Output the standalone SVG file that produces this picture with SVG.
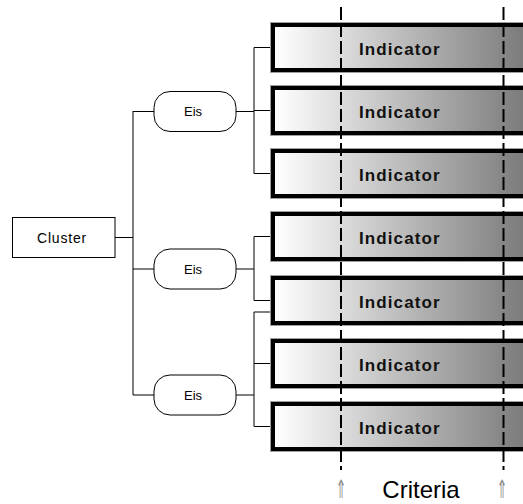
<svg xmlns="http://www.w3.org/2000/svg" width="523" height="504" viewBox="0 0 523 504">
<style>
.ind rect.b{fill:url(#g);stroke:#000;stroke-width:4}
.ind rect.s{fill:none;stroke:#a0a0a0;stroke-width:1}
.ind text{font-family:"Liberation Sans",Arial,sans-serif;font-weight:bold;font-size:17px;letter-spacing:1.1px;fill:#111}
.eis rect{fill:#fff;stroke:#000;stroke-width:1}
.lbl{font-family:"Liberation Sans",Arial,sans-serif;font-size:13px;fill:#000;text-anchor:middle}
.con path{fill:none;stroke:#000;stroke-width:1}
.dash{stroke:#000;stroke-width:2;stroke-dasharray:13,4}
.arr{font-family:"DejaVu Sans",sans-serif;font-size:14px;fill:#8a8a8a;text-anchor:middle}
</style>
<defs>
<linearGradient id="g" gradientUnits="userSpaceOnUse" x1="275" y1="0" x2="530" y2="0">
<stop offset="0" stop-color="#ffffff"/>
<stop offset="1" stop-color="#787878"/>
</linearGradient>
</defs>
<rect width="523" height="504" fill="#fff"/>
<g class="con">
<path d="M115 237.5H133M133 111V395M133 111.5H154M133 269H154M133 395H154"/>
<path d="M236 111.5H254M254 47.5V173.5M254 47.5H271M254 110.5H271M254 173.5H271"/>
<path d="M236 269H254M254 236.5V300.5M254 236.5H271M254 300.5H271"/>
<path d="M236 395H254M254 312V426.5M254 312H271M254 363.5H271M254 426.5H271"/>
</g>
<g id="cluster"><rect x="12.5" y="217.5" width="102.5" height="40" fill="#fff" stroke="#000"/><text class="lbl" x="62" y="242.5" style="font-size:14px;letter-spacing:0.8px">Cluster</text></g>
<g id="eis1" class="eis"><rect x="154" y="91.5" width="82" height="40" rx="16"/><text class="lbl" x="193" y="116">Eis</text></g>
<g id="eis2" class="eis"><rect x="154" y="249" width="82" height="40" rx="16"/><text class="lbl" x="193" y="273.5">Eis</text></g>
<g id="eis3" class="eis"><rect x="154" y="375" width="82" height="40" rx="16"/><text class="lbl" x="193" y="399.5">Eis</text></g>
<g id="ind1" class="ind"><rect class="s" x="270.5" y="22.5" width="300" height="50"/><rect class="b" x="273" y="25" width="300" height="45"/><text x="359" y="55">Indicator</text></g>
<g id="ind2" class="ind"><rect class="s" x="270.5" y="85.5" width="300" height="50"/><rect class="b" x="273" y="88" width="300" height="45"/><text x="359" y="118">Indicator</text></g>
<g id="ind3" class="ind"><rect class="s" x="270.5" y="148.5" width="300" height="50"/><rect class="b" x="273" y="151" width="300" height="45"/><text x="359" y="181">Indicator</text></g>
<g id="ind4" class="ind"><rect class="s" x="270.5" y="211.5" width="300" height="50"/><rect class="b" x="273" y="214" width="300" height="45"/><text x="359" y="244">Indicator</text></g>
<g id="ind5" class="ind"><rect class="s" x="270.5" y="275.5" width="300" height="50"/><rect class="b" x="273" y="278" width="300" height="45"/><text x="359" y="308">Indicator</text></g>
<g id="ind6" class="ind"><rect class="s" x="270.5" y="338.5" width="300" height="50"/><rect class="b" x="273" y="341" width="300" height="45"/><text x="359" y="371">Indicator</text></g>
<g id="ind7" class="ind"><rect class="s" x="270.5" y="401.5" width="300" height="50"/><rect class="b" x="273" y="404" width="300" height="45"/><text x="359" y="434">Indicator</text></g>
<g id="criteria">
<line class="dash" x1="341" y1="7" x2="341" y2="470"/>
<line class="dash" x1="503.5" y1="7" x2="503.5" y2="470"/>
<text class="arr" transform="translate(341,498) scale(0.9,1.8)">⇑</text>
<text class="arr" transform="translate(502,498) scale(0.9,1.8)">⇑</text>
<text x="421" y="498" style="font-family:'Liberation Sans',Arial,sans-serif;font-size:24px;fill:#000;text-anchor:middle">Criteria</text>
</g>
</svg>
